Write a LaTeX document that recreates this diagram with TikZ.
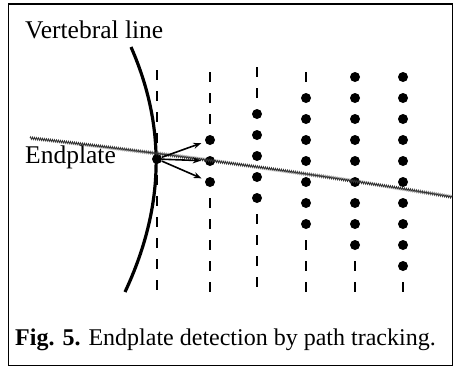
\documentclass[tikz,border=0pt]{standalone}
\usepackage{fontspec}
\setmainfont{Liberation Serif}
\usetikzlibrary{positioning,arrows.meta,decorations.pathmorphing}

\begin{document}
\begin{tikzpicture}[
        x=1pt, y=-1pt,
        dot/.style={circle, fill=black, inner sep=0pt, minimum size=10pt},
        tick/.style={line width=2.5pt},
        vline/.style={line width=3.2pt},
        plate/.style={line width=0.8pt, black!80, decorate, decoration={zigzag, amplitude=1.2pt, segment length=2pt}},
        probe/.style={-{Stealth[length=8pt,width=6pt]}, line width=1.6pt, shorten >=4pt},
        txt/.style={font=\fontsize{25.5}{30}\selectfont, inner sep=0pt, anchor=base west}
    ]
    \useasboundingbox (0,0) rectangle (454,368);
    \draw[line width=1.8pt] (8.5,4) rectangle (452.5,365.5);

    % Search columns: number / x / top / first dot / last dot
    \foreach \c/\x/\t/\a/\b in {1/157/75/4/4, 2/210/77/3/5, 3/257/72/2/6, 4/306/77/1/7, 5/355/77/0/8, 6/403/77/0/9} {
        \foreach \i in {0,...,10} {
            \pgfmathsetmacro{\y}{\t+21*\i}
            \ifnum\i<\a \draw[tick] (\x,\y-5) -- (\x,\y+5);
            \else\ifnum\i>\b \draw[tick] (\x,\y-5) -- (\x,\y+5);
            \else \node[dot] (d\c-\i) at (\x,\y) {};
            \fi\fi
        }
    }

    % Vertebral line and endplate
    \coordinate (vtop) at (131,47);
    \coordinate (vbot) at (125,292);
    \draw[vline] (vtop) .. controls (163,120) and (168,200) .. (vbot);
    \coordinate (pl) at (30,138);
    \coordinate (pr) at (452,197);
    \draw[plate] (pl) .. controls (170,154) and (330,176) .. (pr);

    % Tracking steps
    \draw[probe] (d1-4) -- (d2-3);
    \draw[probe] (d1-4) -- (d2-4);
    \draw[probe] (d1-4) -- (d2-5);

    \node[txt] (vlab) at (25,38) {Vertebral line};
    \node[txt] (plab) at (25,163) {Endplate};
    \node[txt, font=\fontsize{24}{28}\selectfont] (cap) at (15,345) {\textbf{Fig. 5.} Endplate detection by path tracking.};
\end{tikzpicture}
\end{document}
